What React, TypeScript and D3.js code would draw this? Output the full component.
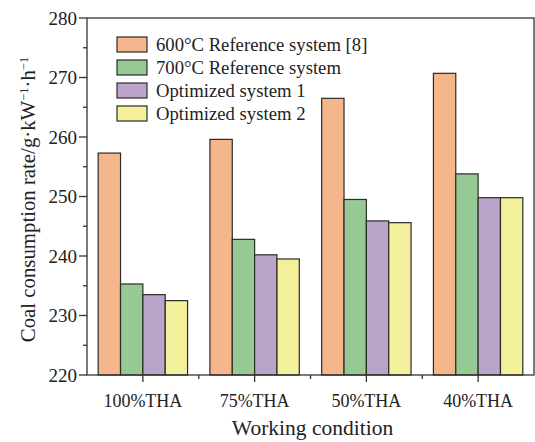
import React from "react";
import * as d3 from "d3";

const categories = ["100%THA", "75%THA", "50%THA", "40%THA"];
const seriesNames = [
  "600°C Reference system [8]",
  "700°C Reference system",
  "Optimized system 1",
  "Optimized system 2",
];
const ref600 = [257.3, 259.6, 266.5, 270.7];
const ref700 = [235.3, 242.8, 249.5, 253.8];
const opt1 = [233.5, 240.2, 245.9, 249.8];
const opt2 = [232.5, 239.5, 245.6, 249.8];
const seriesColors = ["#F5B68C", "#97C994", "#BBA4C9", "#F3EF9B"];
const yTicks = [220, 230, 240, 250, 260, 270, 280];
const yMinorTicks = [225, 235, 245, 255, 265, 275];

const W = 535;
const H = 442;
const margin = { left: 87, right: 1, top: 18, bottom: 67 };
const FONT = "'Liberation Serif', 'Times New Roman', serif";

export default function App() {
  const series = [ref600, ref700, opt1, opt2];
  const x = d3
    .scaleBand<string>()
    .domain(categories)
    .range([margin.left, W - margin.right])
    .paddingInner(0)
    .paddingOuter(0);
  const inner = d3
    .scaleBand<number>()
    .domain(d3.range(series.length))
    .range([0, x.bandwidth()])
    .paddingOuter(0.5)
    .paddingInner(0);
  const y = d3
    .scaleLinear()
    .domain([220, 280])
    .range([H - margin.bottom, margin.top]);

  const x0 = margin.left;
  const x1 = W - margin.right;
  const yb = H - margin.bottom;
  const yt = margin.top;
  const axisColor = "#333";

  const boundaries = categories.map((c) => x(c)!).slice(1);

  return (
    <svg
      width={W}
      height={H}
      style={{ position: "absolute", left: 0, top: 0, background: "#fff" }}
      fontFamily={FONT}
    >
      {/* bars */}
      {categories.map((c, ci) =>
        series.map((s, si) => (
          <rect
            key={`${ci}-${si}`}
            x={x(c)! + inner(si)!}
            y={y(s[ci])}
            width={inner.bandwidth()}
            height={yb - y(s[ci])}
            fill={seriesColors[si]}
            stroke="#2b2b2b"
            strokeWidth={1.2}
          />
        ))
      )}

      {/* frame */}
      <rect
        x={x0}
        y={yt}
        width={x1 - x0}
        height={yb - yt}
        fill="none"
        stroke={axisColor}
        strokeWidth={1.3}
      />

      {/* y ticks */}
      {yTicks.map((t) => (
        <g key={t}>
          <line x1={x0 - 8} x2={x0} y1={y(t)} y2={y(t)} stroke={axisColor} strokeWidth={1.3} />
          <text
            x={x0 - 10}
            y={y(t)}
            dy="0.35em"
            textAnchor="end"
            fontSize={19}
            fill="#222"
          >
            {t}
          </text>
        </g>
      ))}
      {yMinorTicks.map((t) => (
        <line key={t} x1={x0 - 4} x2={x0} y1={y(t)} y2={y(t)} stroke={axisColor} strokeWidth={1.3} />
      ))}

      {/* x ticks */}
      {categories.map((c) => {
        const cx = x(c)! + x.bandwidth() / 2;
        return (
          <g key={c}>
            <line x1={cx} x2={cx} y1={yb} y2={yb + 7} stroke={axisColor} strokeWidth={1.3} />
            <text x={cx} y={yb + 32} textAnchor="middle" fontSize={18} fill="#222">
              {c}
            </text>
          </g>
        );
      })}
      {boundaries.map((bx, i) => (
        <line key={i} x1={bx} x2={bx} y1={yb} y2={yb + 4} stroke={axisColor} strokeWidth={1.3} />
      ))}

      {/* axis titles */}
      <text
        x={(x0 + x1) / 2 + 2}
        y={yb + 60}
        textAnchor="middle"
        fontSize={21.5}
        fill="#222"
      >
        Working condition
      </text>
      <text
        transform={`translate(35, ${(yt + yb) / 2 + 3}) rotate(-90)`}
        textAnchor="middle"
        fontSize={20.8}
        fill="#222"
      >
        Coal consumption rate/g·kW
        <tspan dy={-7} fontSize={12.5}>−1</tspan>
        <tspan dy={7}>·h</tspan>
        <tspan dy={-7} fontSize={12.5}>−1</tspan>
      </text>

      {/* legend */}
      {seriesNames.map((name, i) => {
        const ly = 37 + i * 23;
        return (
          <g key={name}>
            <rect
              x={117}
              y={ly}
              width={30}
              height={15}
              fill={seriesColors[i]}
              stroke="#2b2b2b"
              strokeWidth={1.2}
            />
            <text x={156} y={ly + 7.5} dy="0.35em" fontSize={18.7} fill="#222">
              {name}
            </text>
          </g>
        );
      })}
    </svg>
  );
}
